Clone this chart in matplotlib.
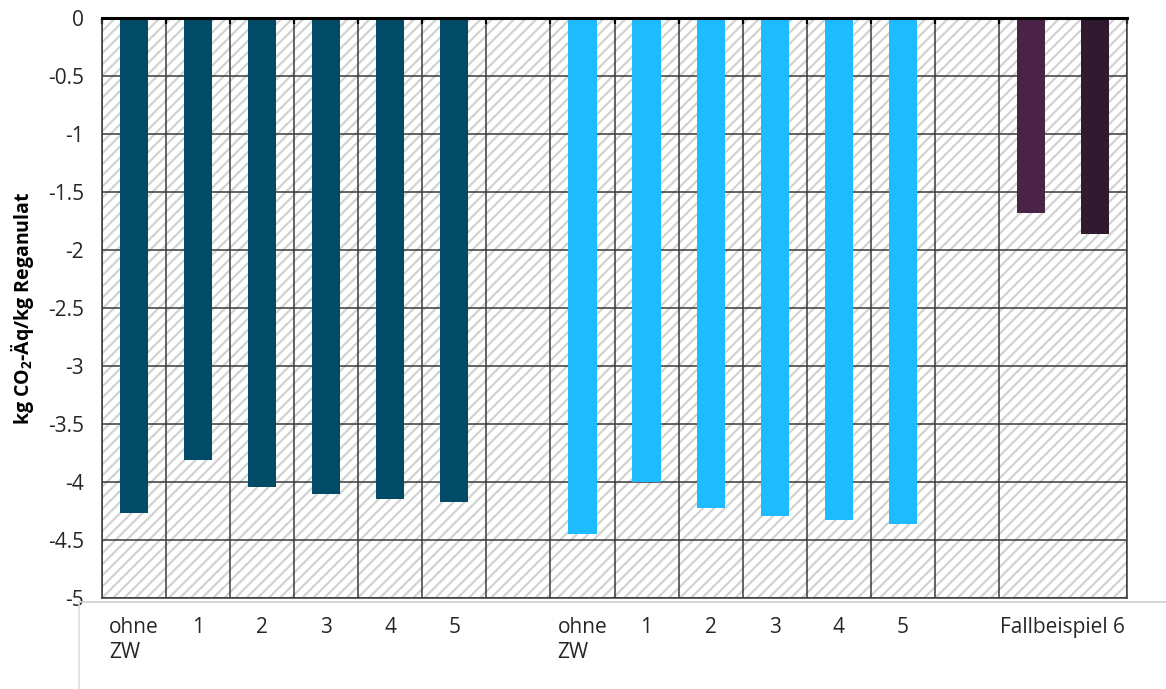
import matplotlib
matplotlib.use("Agg")
import matplotlib.pyplot as plt
from matplotlib.patches import Rectangle
from matplotlib.lines import Line2D
import numpy as np

plt.rcParams['font.family'] = ['Open Sans', 'DejaVu Sans']
plt.rcParams['mathtext.fontset'] = 'custom'
plt.rcParams['mathtext.bf'] = 'Open Sans:bold'
plt.rcParams['mathtext.rm'] = 'Open Sans'
plt.rcParams['hatch.linewidth'] = 1.6

# Emissions per kg regranulate for each case
series_a_labels = ["ohne\nZW", "1", "2", "3", "4", "5"]
series_a_values = [-4.27, -3.81, -4.04, -4.10, -4.15, -4.17]
series_b_labels = ["ohne\nZW", "1", "2", "3", "4", "5"]
series_b_values = [-4.45, -4.00, -4.22, -4.29, -4.33, -4.36]
case6_label = "Fallbeispiel 6"
case6_values = [-1.68, -1.86]

color_a = "#024B66"
color_b = "#1EBBFF"
case6_colors = ["#4B2248", "#2F1A30"]

y_ticks = [0, -0.5, -1, -1.5, -2, -2.5, -3, -3.5, -4, -4.5, -5]

W, H = 1166, 689
fig = plt.figure(figsize=(W / 100, H / 100), dpi=100)
ax = fig.add_axes([102 / W, 1 - 598 / H, (1127 - 102) / W, (598 - 18) / H])

n_slots = len(series_a_values) + 1 + len(series_b_values) + 1 + len(case6_values)
xa = np.arange(len(series_a_values))
xb = np.arange(len(series_b_values)) + len(series_a_values) + 1
xc = np.arange(len(case6_values)) + xb[-1] + 2

bar_w = 0.44
ax.bar(xa, series_a_values, width=bar_w, color=color_a, zorder=3)
ax.bar(xb, series_b_values, width=bar_w, color=color_b, zorder=3)
ax.bar(xc, case6_values, width=bar_w, color=case6_colors, zorder=3)

ax.set_xlim(-0.5, n_slots - 0.5)
ax.set_ylim(-5, 0)

# hatched plot background
ax.add_patch(Rectangle((0, 0), 1, 1, transform=ax.transAxes, facecolor="white",
                       edgecolor="#D2D2D2", hatch="///", linewidth=0, zorder=0))

# grid
ax.set_yticks(y_ticks)
ax.set_yticklabels([f"{t:g}" for t in y_ticks])
ax.yaxis.grid(True, color="#3A3A3A", linewidth=1.1, zorder=1)
ax.set_xticks(np.arange(-0.5, n_slots, 1.0), minor=True)
ax.xaxis.grid(True, which="minor", color="#3A3A3A", linewidth=1.1, zorder=1)
ax.set_axisbelow(False)

label_pos = list(xa) + list(xb) + [xc.mean()]
labels = series_a_labels + series_b_labels + [case6_label]
ax.set_xticks(label_pos)
ax.set_xticklabels(labels, multialignment="left", va="top", linespacing=1.25)

ax.tick_params(axis="x", which="major", length=0, pad=14, labelsize=15, labelcolor="#262626")
ax.tick_params(axis="x", which="minor", top=True, bottom=False, direction="in",
               length=4, width=1.6, color="black")
ax.tick_params(axis="y", length=0, pad=13, labelsize=15, labelcolor="#262626")

for side in ("left", "right", "bottom"):
    ax.spines[side].set_color("#3A3A3A")
    ax.spines[side].set_linewidth(1.1)
ax.spines["top"].set_color("black")
ax.spines["top"].set_linewidth(2.2)
for s in ax.spines.values():
    s.set_zorder(4)

fig.text(23 / W, 1 - 308 / H, r"kg CO$_\mathbf{2}$-Äq/kg Reganulat", rotation=90,
         ha="center", va="center", fontsize=14, fontweight="bold", color="black")

# outer frame lines below the plot
fig.add_artist(Line2D([79 / W, 1], [1 - 602 / H, 1 - 602 / H], color="#CFCFCF", linewidth=1.2))
fig.add_artist(Line2D([79 / W, 79 / W], [1 - 602 / H, 0], color="#DDDDDD", linewidth=1.2))

fig.savefig("out.png", dpi=100)
